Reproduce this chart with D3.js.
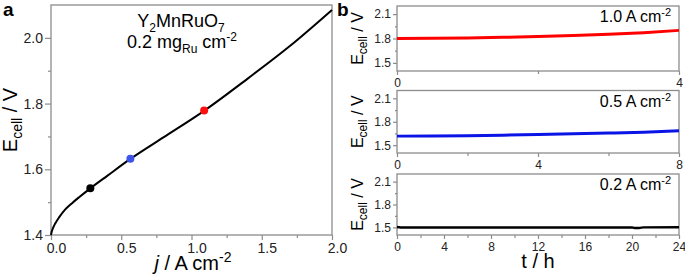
<!DOCTYPE html>
<html>
<head>
<meta charset="utf-8">
<script src="https://cdn.jsdelivr.net/npm/d3@7"></script>
<style>
body{margin:0;background:#fff;}
svg text{font-family:"Liberation Sans",Arial,sans-serif;}
.axis path{display:none;}
.axis line{stroke:#8c8c8c;stroke-width:1.2px;}
.axis text{fill:#222;}
</style>
</head>
<body>
<svg id="chart" width="685" height="277"></svg>
<script>
// panel a: polarisation curve
var polJ = [0, 0.005, 0.015, 0.03, 0.06, 0.1, 0.15, 0.2, 0.28, 0.4, 0.57, 0.8, 1.1, 1.4, 1.7, 2.0];
var polE = [1.40, 1.41, 1.422, 1.435, 1.455, 1.477, 1.497, 1.515, 1.542, 1.580, 1.633, 1.697, 1.781, 1.876, 1.975, 2.085];
var dotJ = [0.28, 0.565, 1.09];
var dotE = [1.542, 1.632, 1.779];
var dotColor = ["#000000", "#3d55e6", "#ff1010"];
var aXTicks = [0, 0.5, 1.0, 1.5, 2.0];
var aYTicks = [1.4, 1.6, 1.8, 2.0];

// panel b: stability at constant current
var redT = [0, 0.5, 1, 1.5, 2, 2.5, 3, 3.5, 4];
var redE = [1.80, 1.802, 1.807, 1.814, 1.824, 1.836, 1.851, 1.872, 1.90];
var blueT = [0, 1, 2, 3, 4, 5, 6, 7, 8];
var blueE = [1.616, 1.618, 1.622, 1.628, 1.636, 1.645, 1.655, 1.667, 1.685];
var blackT = [0, 0.15, 0.3, 2, 6, 10, 14, 18, 20, 20.2, 20.6, 21, 24];
var blackE = [1.505, 1.503, 1.50, 1.50, 1.50, 1.50, 1.50, 1.50, 1.50, 1.493, 1.493, 1.50, 1.502];
var bYTicks = [1.5, 1.8, 2.1];
var bLabels = ["1.0", "0.5", "0.2"];

var svg = d3.select("#chart");

// ---------- panel a ----------
var ax = {left: 51, right: 332, top: 5, bottom: 235};
var xA = d3.scaleLinear().domain([0, 2]).range([ax.left, ax.right]);
var yA = d3.scaleLinear().domain([1.4, 2.1]).range([ax.bottom, ax.top]);

var gA = svg.append("g");

gA.append("g").attr("class", "axis")
    .attr("transform", "translate(0," + ax.bottom + ")")
    .call(d3.axisBottom(xA).tickValues([0.25, 0.75, 1.25, 1.75]).tickSize(3).tickFormat(""));
gA.append("g").attr("class", "axis")
    .attr("transform", "translate(0," + ax.bottom + ")")
    .call(d3.axisBottom(xA).tickValues(aXTicks).tickSize(5).tickPadding(3).tickFormat(d3.format(".1f")))
    .selectAll("text").style("font-size", "14px").attr("dx", 5);

gA.append("g").attr("class", "axis")
    .attr("transform", "translate(" + ax.left + ",0)")
    .call(d3.axisLeft(yA).tickValues([1.5, 1.7, 1.9]).tickSize(3).tickFormat(""));
gA.append("g").attr("class", "axis")
    .attr("transform", "translate(" + ax.left + ",0)")
    .call(d3.axisLeft(yA).tickValues(aYTicks).tickSize(6).tickPadding(2).tickFormat(d3.format(".1f")))
    .selectAll("text").style("font-size", "14px");

gA.append("rect")
    .attr("x", ax.left).attr("y", ax.top)
    .attr("width", ax.right - ax.left).attr("height", ax.bottom - ax.top)
    .style("fill", "none").style("stroke", "#8c8c8c").style("stroke-width", "1.3px");

var polData = polJ.map(function(d, i){ return {x: d, y: polE[i]}; });
var lineA = d3.line()
    .x(function(d){ return xA(d.x); })
    .y(function(d){ return yA(d.y); })
    .curve(d3.curveMonotoneX);

gA.append("path")
    .datum(polData)
    .attr("d", lineA)
    .style("fill", "none")
    .style("stroke", "#000")
    .style("stroke-width", "2px");

gA.selectAll("circle.dot")
    .data(dotJ)
    .enter().append("circle")
    .attr("class", "dot")
    .attr("cx", function(d){ return xA(d); })
    .attr("cy", function(d, i){ return yA(dotE[i]); })
    .attr("r", 4)
    .style("fill", function(d, i){ return dotColor[i]; });

var titleA = gA.append("text").attr("x", 181).attr("y", 27)
    .attr("text-anchor", "middle").style("font-size", "18px");
titleA.append("tspan").text("Y");
titleA.append("tspan").attr("dy", 5).style("font-size", "12px").text("2");
titleA.append("tspan").attr("dy", -5).text("MnRuO");
titleA.append("tspan").attr("dy", 5).style("font-size", "12px").text("7");

var subA = gA.append("text").attr("x", 182).attr("y", 48)
    .attr("text-anchor", "middle").style("font-size", "18px");
subA.append("tspan").text("0.2 mg");
subA.append("tspan").attr("dy", 5).style("font-size", "12px").text("Ru");
subA.append("tspan").attr("dy", -5).text(" cm");
subA.append("tspan").attr("dy", -7).style("font-size", "12px").text("-2");

var yTitleA = gA.append("text")
    .attr("transform", "translate(17," + (ax.top + ax.bottom) / 2 + ") rotate(-90)")
    .attr("text-anchor", "middle").style("font-size", "20px");
yTitleA.append("tspan").text("E");
yTitleA.append("tspan").attr("dy", 5).style("font-size", "14px").text("cell");
yTitleA.append("tspan").attr("dy", -5).text(" / V");

var xTitleA = gA.append("text").attr("x", 193).attr("y", 270)
    .attr("text-anchor", "middle").style("font-size", "20px");
xTitleA.append("tspan").style("font-style", "italic").text("j");
xTitleA.append("tspan").text(" / A cm");
xTitleA.append("tspan").attr("dy", -8).style("font-size", "14px").text("-2");

svg.append("text").attr("x", 3).attr("y", 16)
    .style("font-size", "19px").style("font-weight", "bold").text("a");

// ---------- panel b ----------
svg.append("text").attr("x", 337).attr("y", 16)
    .style("font-size", "19px").style("font-weight", "bold").text("b");

var bLeft = 397, bRight = 679;
var subs = [
    {top: 6, bottom: 71, tMax: 4, major: [0, 4], minor: [2], t: redT, e: redE, color: "#ff0000"},
    {top: 90.5, bottom: 153, tMax: 8, major: [0, 4, 8], minor: [2, 6], t: blueT, e: blueE, color: "#0a14e6"},
    {top: 174, bottom: 235, tMax: 24, major: [0, 4, 8, 12, 16, 20, 24], minor: [2, 6, 10, 14, 18, 22], t: blackT, e: blackE, color: "#000000"}
];

subs.forEach(function(s, k){
    var x = d3.scaleLinear().domain([0, s.tMax]).range([bLeft, bRight]);
    var y = d3.scaleLinear().domain([1.4, 2.2]).range([s.bottom, s.top]);
    var g = svg.append("g");

    g.append("g").attr("class", "axis")
        .attr("transform", "translate(0," + s.bottom + ")")
        .call(d3.axisBottom(x).tickValues(s.minor).tickSize(3).tickFormat(""));
    g.append("g").attr("class", "axis")
        .attr("transform", "translate(0," + s.bottom + ")")
        .call(d3.axisBottom(x).tickValues(s.major).tickSize(4).tickPadding(3).tickFormat(d3.format("d")))
        .selectAll("text").style("font-size", "12px");

    g.append("g").attr("class", "axis")
        .attr("transform", "translate(" + bLeft + ",0)")
        .call(d3.axisLeft(y).tickValues([1.65, 1.95]).tickSize(2).tickFormat(""));
    g.append("g").attr("class", "axis")
        .attr("transform", "translate(" + bLeft + ",0)")
        .call(d3.axisLeft(y).tickValues(bYTicks).tickSize(4).tickPadding(2).tickFormat(d3.format(".1f")))
        .selectAll("text").style("font-size", "12px");

    g.append("rect")
        .attr("x", bLeft).attr("y", s.top)
        .attr("width", bRight - bLeft).attr("height", s.bottom - s.top)
        .style("fill", "none").style("stroke", "#8c8c8c").style("stroke-width", "1.3px");

    var data = s.t.map(function(d, i){ return {x: d, y: s.e[i]}; });
    var line = d3.line()
        .x(function(d){ return x(d.x); })
        .y(function(d){ return y(d.y); })
        .curve(d3.curveMonotoneX);
    g.append("path")
        .datum(data)
        .attr("d", line)
        .style("fill", "none")
        .style("stroke", s.color)
        .style("stroke-width", k == 2 ? "2.5px" : "3px");

    var lab = g.append("text").attr("x", bRight - 8).attr("y", s.top + 16)
        .attr("text-anchor", "end").style("font-size", "16px");
    lab.append("tspan").text(bLabels[k] + " A cm");
    lab.append("tspan").attr("dy", -6).style("font-size", "11px").text("-2");

    var yt = g.append("text")
        .attr("transform", "translate(363," + (s.top + s.bottom) / 2 + ") rotate(-90)")
        .attr("text-anchor", "middle").style("font-size", "16px");
    yt.append("tspan").text("E");
    yt.append("tspan").attr("dy", 4).style("font-size", "12px").text("cell");
    yt.append("tspan").attr("dy", -4).text(" / V");
});

svg.append("text").attr("x", 538).attr("y", 268)
    .attr("text-anchor", "middle").style("font-size", "20px").text("t / h");
</script>
</body>
</html>
